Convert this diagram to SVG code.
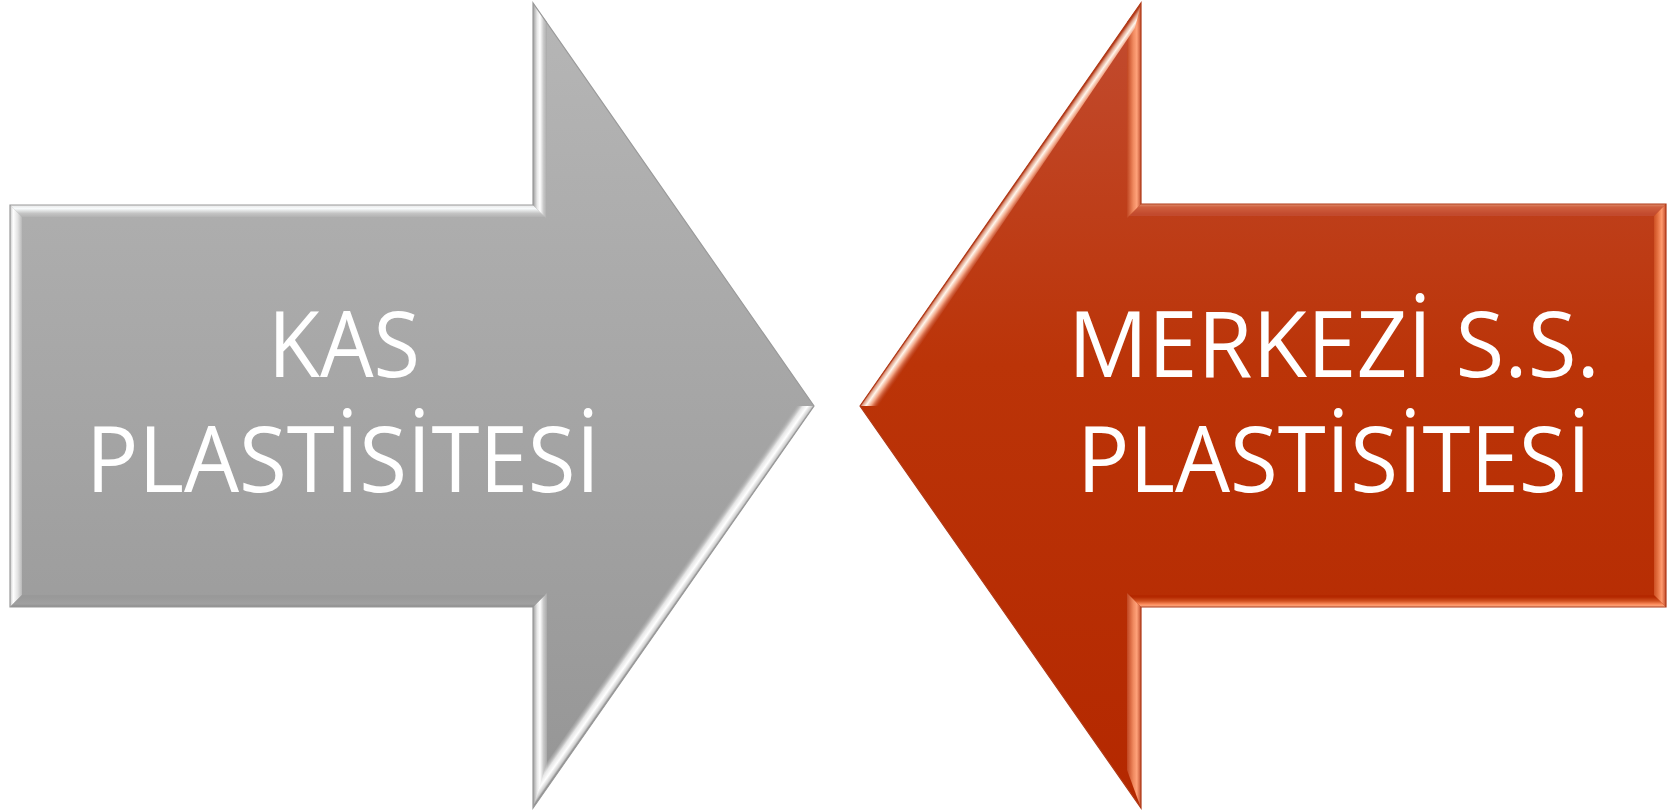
<svg xmlns="http://www.w3.org/2000/svg" width="1679" height="810" viewBox="0 0 1679 810">
<defs>
<style>
.lbl{font-family:"Open Sans","Noto Sans","Liberation Sans",sans-serif;font-size:91px;fill:#ffffff;}
</style>
<linearGradient id="gFill" x1="0" y1="0" x2="0" y2="1">
<stop offset="0" stop-color="#b6b6b6"/>
<stop offset="1" stop-color="#959595"/>
</linearGradient>
<linearGradient id="rFill" x1="0" y1="0" x2="0" y2="1">
<stop offset="0" stop-color="#c24c31"/>
<stop offset="0.45" stop-color="#bb3408"/>
<stop offset="1" stop-color="#b42800"/>
</linearGradient>
<linearGradient id="gLeft" gradientUnits="userSpaceOnUse" x1="10" y1="0" x2="23" y2="0">
<stop offset="0" stop-color="#c8c8c8"/>
<stop offset="0.25" stop-color="#ffffff"/>
<stop offset="0.6" stop-color="#e2e2e2"/>
<stop offset="1" stop-color="#adadad"/>
</linearGradient>
<linearGradient id="gTop" gradientUnits="userSpaceOnUse" x1="0" y1="205" x2="0" y2="217">
<stop offset="0" stop-color="#e6e6e6"/>
<stop offset="0.3" stop-color="#f8fbfc"/>
<stop offset="0.7" stop-color="#c4c4c4"/>
<stop offset="1" stop-color="#b2b2b2"/>
</linearGradient>
<linearGradient id="gVert" gradientUnits="userSpaceOnUse" x1="533" y1="0" x2="547" y2="0">
<stop offset="0" stop-color="#9c9c9c"/>
<stop offset="0.3" stop-color="#e8e8e8"/>
<stop offset="0.5" stop-color="#ffffff"/>
<stop offset="0.75" stop-color="#c9c9c9"/>
<stop offset="1" stop-color="#a9a9a9"/>
</linearGradient>
<linearGradient id="gBotEdge" gradientUnits="userSpaceOnUse" x1="0" y1="607" x2="0" y2="597">
<stop offset="0" stop-color="#8c8c8c"/>
<stop offset="0.3" stop-color="#a0a0a0"/>
<stop offset="1" stop-color="#999999"/>
</linearGradient>
<linearGradient id="gDiag" gradientUnits="userSpaceOnUse" x1="673.5" y1="607" x2="660.4" y2="597.8">
<stop offset="0" stop-color="#8a8a8a"/>
<stop offset="0.12" stop-color="#cfcfcf"/>
<stop offset="0.35" stop-color="#ffffff"/>
<stop offset="0.6" stop-color="#e6e6e6"/>
<stop offset="1" stop-color="#a0a0a0" stop-opacity="0"/>
</linearGradient>
<linearGradient id="rDiag" gradientUnits="userSpaceOnUse" x1="1000.5" y1="204.5" x2="1013.6" y2="213.7">
<stop offset="0" stop-color="#b33a1a"/>
<stop offset="0.15" stop-color="#e0a088"/>
<stop offset="0.35" stop-color="#fff6ec"/>
<stop offset="0.6" stop-color="#f0a080"/>
<stop offset="1" stop-color="#c24c31" stop-opacity="0"/>
</linearGradient>
<linearGradient id="rVert" gradientUnits="userSpaceOnUse" x1="1141" y1="0" x2="1127" y2="0">
<stop offset="0" stop-color="#c05030"/>
<stop offset="0.3" stop-color="#ffa27a"/>
<stop offset="0.55" stop-color="#f08a60"/>
<stop offset="1" stop-color="#c04520"/>
</linearGradient>
<linearGradient id="rRight" gradientUnits="userSpaceOnUse" x1="1666" y1="0" x2="1652" y2="0">
<stop offset="0" stop-color="#c04a2a"/>
<stop offset="0.3" stop-color="#ff9a6e"/>
<stop offset="0.6" stop-color="#e47040"/>
<stop offset="1" stop-color="#c03e14"/>
</linearGradient>
<linearGradient id="rTop" gradientUnits="userSpaceOnUse" x1="0" y1="204" x2="0" y2="214">
<stop offset="0" stop-color="#e09070"/>
<stop offset="0.3" stop-color="#d0603f"/>
<stop offset="1" stop-color="#c24a2e"/>
</linearGradient>
<linearGradient id="rBot" gradientUnits="userSpaceOnUse" x1="0" y1="607" x2="0" y2="597">
<stop offset="0" stop-color="#f0b090"/>
<stop offset="0.25" stop-color="#ff9060"/>
<stop offset="0.6" stop-color="#d05020"/>
<stop offset="1" stop-color="#b42800"/>
</linearGradient>
</defs>

<g id="node-kas">
<polygon points="10,205 533,205 533,3 814,406 533,808 533,607 10,607" fill="url(#gFill)"/>
<polygon points="10,205 533,205 545,217 22,217" fill="url(#gTop)"/>
<polygon points="10,205 22,217 22,595 10,607" fill="url(#gLeft)"/>
<polygon points="533,205 533,3 547,22 547,219" fill="url(#gVert)"/>
<polygon points="533,607 547,593 547,770 533,808" fill="url(#gVert)"/>
<polygon points="10,607 533,607 545,595 22,595" fill="url(#gBotEdge)"/>
<polygon points="533,808 814,406 795,406 547,762" fill="url(#gDiag)"/>
<polygon points="10,205 533,205 533,3 814,406 533,808 533,607 10,607" fill="none" stroke="#9a9a9a" stroke-width="1.2"/>
<text class="lbl" x="268" y="377" textLength="152" lengthAdjust="spacingAndGlyphs">KAS</text>
<text class="lbl" x="86" y="492" textLength="514" lengthAdjust="spacingAndGlyphs">PLASTİSİTESİ</text>
</g>

<g id="node-merkezi">
<polygon points="860,406 1141,3 1141,204 1666,204 1666,607 1141,607 1141,808" fill="url(#rFill)"/>
<polygon points="1141,204 1666,204 1654,216 1129,216" fill="url(#rTop)"/>
<polygon points="1141,607 1666,607 1654,595 1129,595" fill="url(#rBot)"/>
<polygon points="1141,3 1141,204 1127,218 1127,22" fill="url(#rVert)"/>
<polygon points="1141,607 1127,593 1127,770 1141,808" fill="url(#rVert)"/>
<polygon points="1666,204 1654,216 1654,595 1666,607" fill="url(#rRight)"/>
<polygon points="860,406 1141,3 1135,28 879,406" fill="url(#rDiag)"/>
<polygon points="860,406 1141,3 1141,204 1666,204 1666,607 1141,607 1141,808" fill="none" stroke="#b03a18" stroke-width="1.2"/>
<text class="lbl" x="1068" y="377" textLength="532" lengthAdjust="spacingAndGlyphs">MERKEZİ S.S.</text>
<text class="lbl" x="1077" y="492" textLength="514" lengthAdjust="spacingAndGlyphs">PLASTİSİTESİ</text>
</g>

<g id="connectors"></g>
</svg>
